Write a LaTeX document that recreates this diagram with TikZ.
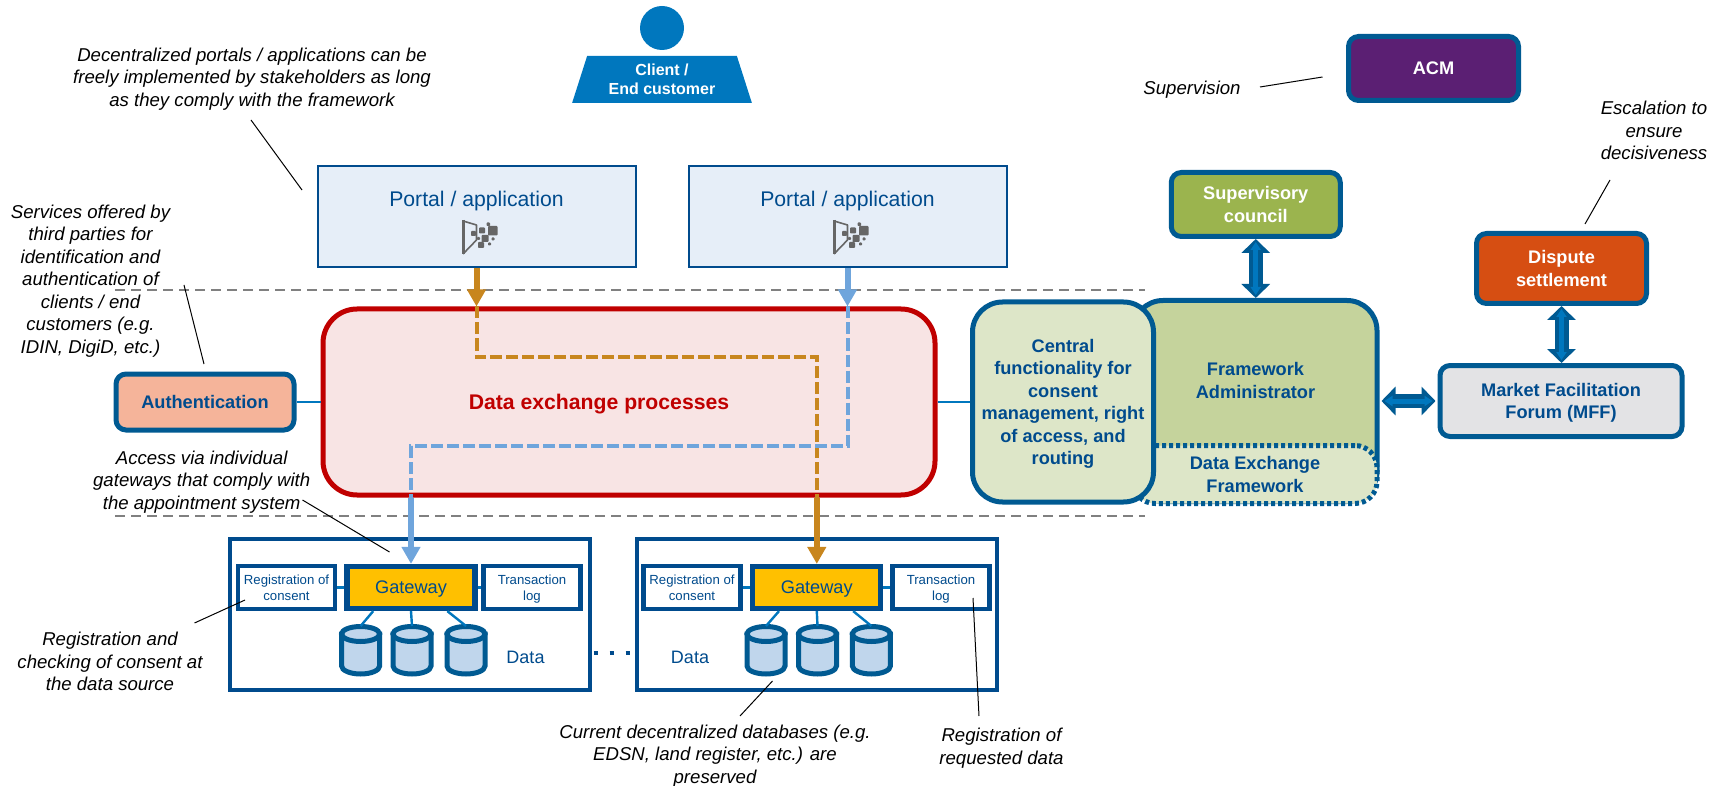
\documentclass[tikz,border=0pt]{standalone}
\usepackage{fontspec}
\setmainfont{Liberation Sans}
\usetikzlibrary{arrows.meta,shapes.geometric}
\definecolor{navy}{HTML}{004B8D}
\definecolor{edgeblue}{HTML}{005A92}
\definecolor{linkblue}{HTML}{0077BE}
\definecolor{lightflow}{HTML}{6FA5DC}
\definecolor{ochre}{HTML}{C8861E}
\definecolor{portalfill}{HTML}{E6EEF8}
\definecolor{procred}{HTML}{C00000}
\definecolor{procfill}{HTML}{F8E4E4}
\definecolor{paleolive}{HTML}{DDE6C8}
\definecolor{midolive}{HTML}{C5D39C}
\definecolor{cylfill}{HTML}{C0D6EC}
\definecolor{icongray}{HTML}{666666}
\definecolor{gatefill}{HTML}{FFC000}
\definecolor{authfill}{HTML}{F5B49A}
\definecolor{olivegreen}{HTML}{9BB44E}
\definecolor{acmpurple}{HTML}{5B1F73}
\definecolor{disputeorange}{HTML}{D64E12}
\definecolor{mffgray}{HTML}{E3E3E5}
\newcommand{\nodepth}[1]{\raisebox{0pt}[\height][0pt]{#1}}
\tikzset{
  roundbox/.style={draw=edgeblue, line width=2.5pt, rounded corners=5pt, align=center, inner sep=1pt,
    font=\fontsize{9.1}{11.25}\selectfont\bfseries},
  whitetitle/.style={roundbox, text=white},
  bluetitle/.style={roundbox, text=navy},
  portal/.style={draw=navy, line width=1pt, fill=portalfill, minimum width=159pt, minimum height=50.5pt, inner sep=0pt},
  sourcebox/.style={draw=navy, line width=2pt, minimum width=180pt, minimum height=75.5pt},
  smallbox/.style={draw=navy, line width=2.2pt, fill=white, text=navy, align=center, inner sep=0pt,
    minimum width=48.5pt, minimum height=21.5pt, font=\fontsize{6.6}{8.2}\selectfont},
  gatewaybox/.style={draw=navy, line width=2.6pt, fill=gatefill, text=navy, inner sep=0pt,
    minimum width=64pt, minimum height=21pt, font=\fontsize{9.1}{11}\selectfont},
  note/.style={align=center, inner sep=0pt, font=\fontsize{9.3}{11.25}\selectfont\itshape},
  plainlabel/.style={text=navy, inner sep=0pt, font=\fontsize{9}{11}\selectfont},
  portaltext/.style={text=navy, inner sep=0pt, font=\fontsize{10.6}{12}\selectfont},
  leader/.style={draw=black, line width=.5pt},
  link/.style={draw=linkblue, line width=1.2pt},
  borderline/.style={draw=gray, line width=1pt, dash pattern=on 5pt off 3pt},
  flowtip/.style={-{Triangle[width=9pt,length=8.5pt]}, line width=3pt, draw=#1, fill=#1},
  flowdash/.style={draw=#1, line width=2pt, dash pattern=on 6pt off 2pt},
  dbloutside/.style={{Triangle[width=14pt,length=7pt]}-{Triangle[width=14pt,length=7pt]}, line width=7pt, draw=edgeblue, fill=edgeblue},
  dblinside/.style={{Triangle[width=5pt,length=4pt]}-{Triangle[width=5pt,length=4pt]}, line width=2.5pt, draw=linkblue, fill=linkblue,
    shorten >=1.5pt, shorten <=1.5pt},
  database/.pic={
    \filldraw[draw=edgeblue, fill=cylfill, line width=2.5pt] (-19,-16) -- (-19,16)
      arc [start angle=180, end angle=0, x radius=19, y radius=8] -- (19,-16) -- cycle;
    \filldraw[draw=edgeblue, fill=cylfill, line width=2.5pt] (0,-16) ellipse [x radius=19, y radius=7.5];
    \coordinate (-top) at (0,-24);
  },
  portalicon/.pic={
    \draw[icongray, line width=.8pt, line join=round] (-17,-16) -- (-3.5,-12) -- (-3.5,3) -- (-17,17);
    \draw[icongray, line width=1.8pt] (-16.5,-17) -- (-16.5,17);
    \fill[icongray, rounded corners=.4pt]
      (-9,-6) rectangle +(5,5) (-1,-9.5) rectangle +(6,6) (8,-11) rectangle +(9.5,9.5)
      (6.5,-14.5) rectangle +(3.5,3.5) (1.5,-2) rectangle +(7,7) (-2,5) rectangle +(6,6)
      (-3,0) rectangle +(3,3) (8,5.5) rectangle +(3,3) (11.5,0.5) rectangle +(3,3);
  }
}
\begin{document}
\begin{tikzpicture}[x=.5pt,y=-.5pt]
  \useasboundingbox (0,0) rectangle (1719,786);

  \node (head) [circle, fill=linkblue, minimum size=22pt, inner sep=0pt] at (662,28) {};
  \node (client) [trapezium, trapezium angle=70.8, trapezium stretches=true, fill=linkblue, text=white, align=center,
    minimum width=90pt, minimum height=23.5pt, inner sep=0pt, font=\fontsize{8}{9.5}\selectfont\bfseries] at (662,79.5) {Client /\\End customer};

  \node (portalA) [portal] at (476.5,217) {};
  \node (portalB) [portal] at (847.5,217) {};
  \node (portalAtext) [portaltext] at (476.5,201) {Portal / application};
  \node (portalBtext) [portaltext] at (847.5,201) {Portal / application};
  \pic at (480,237) {portalicon};
  \pic at (851,237) {portalicon};

  \node (proc) [draw=procred, fill=procfill, line width=2.5pt, rounded corners=17pt,
    minimum width=306pt, minimum height=93pt] at (629,402) {};
  \node (proctext) [text=procred, inner sep=0pt, font=\fontsize{10.6}{12}\selectfont\bfseries] at (599,404) {Data exchange processes};
  \node (auth) [bluetitle, fill=authfill, minimum width=89pt, minimum height=28pt] at (205,402) {Authentication};

  \node (fw) [roundbox, fill=midolive, rounded corners=15pt, minimum width=122pt, minimum height=100.5pt] at (1255,401) {};
  \node (fwtext) [text=navy, align=center, inner sep=0pt, font=\fontsize{9.1}{11.25}\selectfont\bfseries] at (1255.5,380.5) {Framework\\Administrator};
  \node (dxf) [draw=edgeblue, fill=paleolive, line width=2.5pt, dash pattern=on 2pt off 1.5pt, rounded corners=11pt, text=navy, align=center,
    minimum width=122pt, minimum height=29pt, inner sep=0pt, font=\fontsize{9.1}{11.25}\selectfont\bfseries] at (1255,474.5) {Data Exchange\\Framework};
  \node (central) [bluetitle, fill=paleolive, rounded corners=15pt, minimum width=90.5pt, minimum height=100pt] at (1063,402)
    {Central\\functionality for\\consent\\management, right\\of access, and\\\nodepth{routing}};

  \node (sup) [whitetitle, fill=olivegreen, minimum width=84.5pt, minimum height=32pt] at (1255.75,204.5) {Supervisory\\council};
  \node (acm) [whitetitle, fill=acmpurple, minimum width=85pt, minimum height=32pt] at (1433.5,68.5) {ACM};
  \node (dispute) [whitetitle, fill=disputeorange, minimum width=85pt, minimum height=35pt] at (1561.5,268.5) {Dispute\\settlement};
  \node (mff) [bluetitle, fill=mffgray, minimum width=121pt, minimum height=35.5pt] at (1561,401) {Market Facilitation\\\nodepth{Forum (MFF)}};

  \coordinate (topA) at (115,290);
  \coordinate (topB) at (1145,290);
  \coordinate (lowA) at (115,516);
  \coordinate (lowB) at (1145,516);
  \path[borderline] (topA) edge (topB) (lowA) edge (lowB);

  \node (boxA) [sourcebox] at (409.5,614) {};
  \node (boxB) [sourcebox] at (816.5,614) {};
  \node (regA) [smallbox] at (286.5,587.5) {Registration of\\consent};
  \node (gwA) [gatewaybox] at (411,587.5) {\nodepth{Gateway}};
  \node (logA) [smallbox] at (532,587.5) {Transaction\\\nodepth{log}};
  \node (regB) [smallbox] at (692,587.5) {Registration of\\consent};
  \node (gwB) [gatewaybox] at (816.8,587.5) {\nodepth{Gateway}};
  \node (logB) [smallbox] at (941,587.5) {Transaction\\\nodepth{log}};
  \pic (dbA1) at (360.6,650) {database};
  \pic (dbA2) at (412,650) {database};
  \pic (dbA3) at (466,650) {database};
  \pic (dbB1) at (766,650) {database};
  \pic (dbB2) at (817.5,650) {database};
  \pic (dbB3) at (871.4,650) {database};
  \node (dataA) [plainlabel] at (525.5,657) {Data};
  \node (dataB) [plainlabel] at (690,657) {Data};

  \path[link]
  (auth) edge (proc)
  (proc) edge (central)
  (regA) edge (gwA)
  (gwA) edge (logA)
  (regB) edge (gwB)
  (gwB) edge (logB)
  (gwA.-148) edge (dbA1-top)
  (gwA.south) edge (dbA2-top)
  (gwA.-33) edge (dbA3-top)
  (gwB.-148) edge (dbB1-top)
  (gwB.south) edge (dbB2-top)
  (gwB.-33) edge (dbB3-top);

  \coordinate (gapA) at (boxA.east |- 0,653);
  \coordinate (gapB) at (boxB.west |- 0,653);
  \draw[navy, line width=2pt, dash pattern=on 2pt off 6pt, shorten <=1pt] (gapA) -- (gapB);

  \coordinate (orA) at (portalA.south |- proc.north);
  \coordinate (orB) at (gwB.north |- proc.south);
  \coordinate (blA) at (portalB.south |- proc.north);
  \coordinate (blB) at (gwA.north |- proc.south);
  \draw[flowdash=ochre] (orA) -- (portalA.south |- 0,357) -- (gwB.north |- 0,357) -- (orB);
  \draw[flowdash=lightflow] (blA) -- (portalB.south |- 0,446) -- (gwA.north |- 0,446) -- (blB);
  \path (portalA.south) edge[flowtip=ochre] (orA)
        (orB) edge[flowtip=ochre] (gwB.north)
        (portalB.south) edge[flowtip=lightflow] (blA)
        (blB) edge[flowtip=lightflow] (gwA.north);

  \coordinate (supend) at (sup.south |- fw.north);
  \coordinate (mffend) at (dispute.south |- mff.north);
  \path (sup.south) edge[dbloutside] (supend)
        (sup.south) edge[dblinside] (supend)
        (dispute.south) edge[dbloutside] (mffend)
        (dispute.south) edge[dblinside] (mffend)
        (fw.east) edge[dbloutside, shorten >=1pt, shorten <=1pt] (mff.west)
        (fw.east) edge[dblinside, shorten >=2.5pt, shorten <=2.5pt] (mff.west);

  \node (noteportal) [note] at (252,79) {Decentralized portals / applications can be\\freely implemented by stakeholders as long\\as they comply with the framework};
  \node (noteauth) [note] at (90.5,281) {Services offered by\\third parties for\\identification and\\authentication of\\clients / end\\customers (e.g.\\IDIN, DigiD, etc.)};
  \node (noteaccess) [note] at (201.7,482) {Access via individual\\gateways that comply with\\the appointment system};
  \node (noteconsent) [note] at (110,661.5) {Registration and\\checking of consent at\\the data source};
  \node (notedb) [note] at (715,756) {Current decentralized databases (e.g.\\EDSN, land register, etc.) are\\preserved};
  \node (notelog) [note] at (1001.5,748) {Registration of\\requested data};
  \node (notesup) [note] at (1192,90) {Supervision};
  \node (noteesc) [note] at (1654,130.5) {Escalation to\\ensure\\decisiveness};

  \coordinate (lineA1) at (251,120);
  \coordinate (lineA2) at (302,190);
  \coordinate (lineB1) at (184,285);
  \coordinate (lineB2) at (204,364);
  \coordinate (lineC1) at (302.5,500);
  \coordinate (lineC2) at (389.5,552);
  \coordinate (lineD1) at (194.5,623);
  \coordinate (lineD2) at (245,600);
  \coordinate (lineE1) at (740,716);
  \coordinate (lineE2) at (772.5,681);
  \coordinate (lineF1) at (979,716);
  \coordinate (lineF2) at (973,598);
  \coordinate (lineG1) at (1260,87);
  \coordinate (lineG2) at (1322.5,77);
  \coordinate (lineH1) at (1610,180);
  \coordinate (lineH2) at (1585,224);
  \path[leader] (lineA1) edge (lineA2) (lineB1) edge (lineB2)
        (lineC1) edge (lineC2) (lineD1) edge (lineD2)
        (lineE1) edge (lineE2) (lineF1) edge (lineF2)
        (lineG1) edge (lineG2) (lineH1) edge (lineH2);
\end{tikzpicture}
\end{document}
